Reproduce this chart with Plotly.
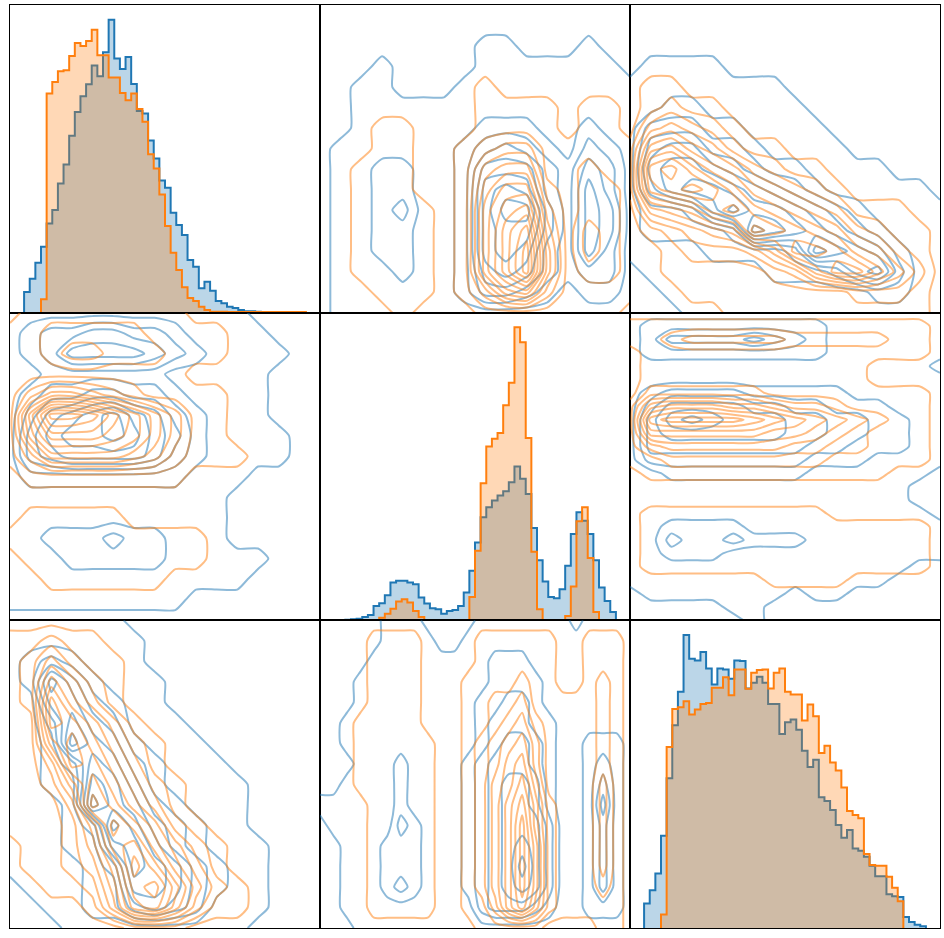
import numpy as np
import plotly.graph_objects as go
from plotly.subplots import make_subplots

N_BINS = 50

# ---------------- diagonal histograms (bin counts, 50 bins over each variable's range) ----------------
hist0_blue_start = 0
hist0_blue = [62, 102, 150, 198, 268, 308, 388, 445, 531, 603, 650, 686, 742, 710, 782, 880, 763, 732, 768, 687,
              606, 598, 517, 463, 397, 375, 300, 263, 233, 158, 138, 73, 93, 66, 35, 28, 18, 14, 8, 4, 4, 3]
hist0_orange_start = 3
hist0_orange = [40, 658, 693, 725, 728, 771, 810, 801, 816, 850, 773, 773, 706, 706, 660, 638, 658, 612, 573, 476,
                433, 355, 260, 180, 128, 76, 44, 35, 18, 8, 3, 3, 3, 2, 2, 2, 2, 2, 2, 2, 2, 2, 2, 2, 2, 2, 2]

hist1_blue_start = 0
hist1_blue = [1, 1, 2, 3, 5, 10, 16, 43, 51, 75, 113, 118, 118, 113, 108, 68, 50, 36, 33, 20, 28, 31, 43, 83, 148,
              233, 308, 338, 358, 373, 386, 413, 460, 423, 378, 276, 180, 116, 70, 66, 93, 163, 258, 323, 298,
              258, 180, 98, 58, 25]
hist1_orange_start = 8
hist1_orange = [8, 20, 35, 56, 63, 53, 28, 10, 0, 0, 0, 0, 0, 0, 0, 0, 70, 208, 410, 520, 543, 560, 643, 710, 876,
                831, 545, 205, 33, 0, 0, 0, 0, 13, 101, 296, 338, 186, 25]

hist2_blue_start = 0
hist2_blue = [73, 113, 163, 276, 448, 606, 706, 876, 805, 800, 825, 776, 728, 776, 773, 745, 800, 798, 716, 733,
              751, 733, 670, 670, 580, 615, 623, 593, 530, 481, 503, 391, 380, 353, 308, 270, 293, 238, 231, 213,
              186, 155, 155, 101, 95, 93, 33, 18, 10, 5]
hist2_orange_start = 3
hist2_orange = [40, 541, 655, 660, 678, 638, 653, 670, 673, 718, 718, 750, 696, 773, 773, 715, 763, 771, 773, 716,
                763, 776, 706, 698, 698, 620, 668, 633, 523, 545, 495, 471, 420, 350, 338, 328, 221, 188, 186, 186,
                153, 120, 80]

# ---------------- 2-D density levels (rows listed top -> bottom, one digit per grid node) ----------------
# density A: x = variable 1, y = variable 0  (16 x 16)
dens01_blue = [
    "0000000000000000",
    "0000000000000000",
    "0000000011000100",
    "0001000011111110",
    "0011000111111111",
    "0011111111111111",
    "0011111122211211",
    "0111111234321321",
    "0112211255532431",
    "0112211267632531",
    "0112311268842541",
    "0112211267742541",
    "0112211267632531",
    "0111211256532331",
    "0111111244321221",
    "0111111111111111",
]
dens01_orange = [
    "0000000000000000",
    "0000000000000000",
    "0000000000000000",
    "0000000000000000",
    "0000000010000000",
    "0000000011110110",
    "0001100011110110",
    "0001100123311111",
    "0011100145511211",
    "0011100157721221",
    "0011110168931221",
    "0011110169b41321",
    "0011110169c51321",
    "0011110169c51221",
    "0001110136731111",
    "0000100011111110",
]
# density B: x = variable 2, y = variable 0  (16 x 16)
dens02_blue = [
    "0000000000000000",
    "0000000000000000",
    "0000000000000000",
    "0111100000000000",
    "1111111100000000",
    "1122111110000000",
    "1333221111000000",
    "1455332111100000",
    "1566543221111000",
    "1467765432111110",
    "1223686654321111",
    "1222238765432111",
    "1111222237654211",
    "0111111222356311",
    "0011111111112211",
    "0001111111111111",
]
dens02_orange = [
    "0000000000000000",
    "0000000000000000",
    "0000000000000000",
    "0000000000000000",
    "0110000000000000",
    "0121100000000000",
    "0343210000000000",
    "1675421100000000",
    "19a8653211000000",
    "189a975432100000",
    "0456897654311100",
    "0123459876532110",
    "0012223588754210",
    "0011111236886420",
    "0001111111122210",
    "0000011111111110",
]
# density C: x = variable 2, y = variable 1  (24 rows x 16 columns)
dens12_blue = [
    "1111111111111111",
    "1222222222111111",
    "1244445432111111",
    "1222222222111111",
    "1111111111111110",
    "1111111111111111",
    "1233332222211111",
    "1355554433222111",
    "1467655544332211",
    "1455555544332211",
    "1444444443322211",
    "1333333332221111",
    "1122222221111110",
    "1111111111111100",
    "1111111111111100",
    "1111111111111110",
    "1122221111111111",
    "1132232221111111",
    "1122211111111111",
    "1111111111111100",
    "1111111111111000",
    "0111111101100000",
    "0000011000000000",
    "0000001000000000",
]
dens12_orange = [
    "0000000000000000",
    "1111111111111110",
    "1123333322222110",
    "0111111111111110",
    "0111111111110000",
    "0111111111110000",
    "0222222111111110",
    "1566655433211110",
    "1899998765432110",
    "1666666554321110",
    "1344444433221110",
    "1122222222111110",
    "0111111111111000",
    "0000000000000000",
    "0000000000000000",
    "0111111111000000",
    "0111111111111110",
    "0111111111111110",
    "0111111111111110",
    "0111111111111110",
    "0000000111100000",
    "0000000000000000",
    "0000000000000000",
    "0000000000000000",
]

BLUE = "#1f77b4"
ORANGE = "#ff7f0e"
BLUE_FILL = "rgba(31,119,180,0.3)"
ORANGE_FILL = "rgba(255,127,14,0.3)"


def grid(rows):
    # rows are given top -> bottom; flip so that row index grows with y
    return np.array([[int(ch, 36) for ch in r] for r in rows], dtype=float)[::-1]


fig = make_subplots(rows=3, cols=3, horizontal_spacing=0, vertical_spacing=0)


def add_hist(row, col, start, counts, color, fill):
    edges = [(start + k) / N_BINS for k in range(len(counts) + 1)]
    x = [edges[0]] + edges[:-1] + [edges[-1]]
    y = [0] + list(counts) + [0]
    fig.add_trace(go.Scatter(x=x, y=y, mode="lines",
                             line=dict(color=color, width=2, shape="hv"),
                             fill="tozeroy", fillcolor=fill, hoverinfo="skip"),
                  row=row, col=col)


def add_contour(row, col, x, y, z, color):
    fig.add_trace(go.Contour(x=x, y=y, z=z, autocontour=False,
                             contours=dict(start=0.5, end=20.5, size=1, coloring="lines", showlabels=False),
                             colorscale=[[0, color], [1, color]], showscale=False,
                             line=dict(width=2, smoothing=0.6), opacity=0.5, hoverinfo="skip"),
                  row=row, col=col)


u16 = np.linspace(0, 1, 16)
u24 = np.linspace(0, 1, 24)

A_b, A_o = grid(dens01_blue), grid(dens01_orange)
B_b, B_o = grid(dens02_blue), grid(dens02_orange)
C_b, C_o = grid(dens12_blue), grid(dens12_orange)

# diagonal
add_hist(1, 1, hist0_blue_start, hist0_blue, BLUE, BLUE_FILL)
add_hist(1, 1, hist0_orange_start, hist0_orange, ORANGE, ORANGE_FILL)
add_hist(2, 2, hist1_blue_start, hist1_blue, BLUE, BLUE_FILL)
add_hist(2, 2, hist1_orange_start, hist1_orange, ORANGE, ORANGE_FILL)
add_hist(3, 3, hist2_blue_start, hist2_blue, BLUE, BLUE_FILL)
add_hist(3, 3, hist2_orange_start, hist2_orange, ORANGE, ORANGE_FILL)

# off-diagonal
add_contour(1, 2, u16, u16, A_b, BLUE)
add_contour(1, 2, u16, u16, A_o, ORANGE)
add_contour(2, 1, u16, u16, A_b.T, BLUE)
add_contour(2, 1, u16, u16, A_o.T, ORANGE)

add_contour(1, 3, u16, u16, B_b, BLUE)
add_contour(1, 3, u16, u16, B_o, ORANGE)
add_contour(3, 1, u16, u16, B_b.T, BLUE)
add_contour(3, 1, u16, u16, B_o.T, ORANGE)

add_contour(2, 3, u16, u24, C_b, BLUE)
add_contour(2, 3, u16, u24, C_o, ORANGE)
add_contour(3, 2, u24, u16, C_b.T, BLUE)
add_contour(3, 2, u24, u16, C_o.T, ORANGE)

diag_max = {1: max(hist0_blue + hist0_orange), 2: max(hist1_blue + hist1_orange), 3: max(hist2_blue + hist2_orange)}

axis_style = dict(showticklabels=False, ticks="", showgrid=False, zeroline=False,
                  showline=True, mirror=True, linecolor="black", linewidth=1)
for r in range(1, 4):
    for c in range(1, 4):
        if r == c:
            fig.update_xaxes(range=[-0.05, 1.05], row=r, col=c, **axis_style)
            fig.update_yaxes(range=[0, 1.05 * diag_max[r]], row=r, col=c, **axis_style)
        else:
            fig.update_xaxes(range=[0, 1], row=r, col=c, **axis_style)
            fig.update_yaxes(range=[0, 1], row=r, col=c, **axis_style)

fig.update_layout(width=944, height=938, margin=dict(l=10, r=4, t=5, b=10),
                  paper_bgcolor="white", plot_bgcolor="white", showlegend=False)

fig.write_html("out.html", config={"displayModeBar": False},
               post_script="document.body.style.margin='0px';document.body.style.padding='0px';"
                           "document.body.style.overflow='hidden';")
